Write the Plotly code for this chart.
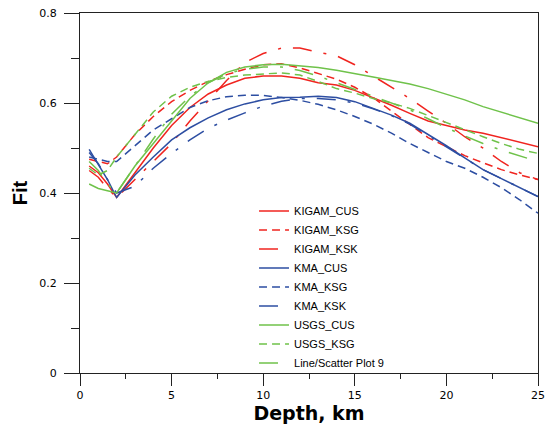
import plotly.graph_objects as go

depth = [0.5, 1, 1.5, 2, 3, 4, 5, 6, 7, 8, 9, 10, 11, 12, 13, 14, 15, 16, 17, 18, 19, 20, 21, 22, 23, 24, 25]

kigam_cus = [0.46, 0.445, 0.42, 0.39, 0.445, 0.50, 0.55, 0.59, 0.62, 0.64, 0.655, 0.66, 0.66, 0.655, 0.645, 0.64, 0.628, 0.612, 0.595, 0.577, 0.56, 0.55, 0.54, 0.533, 0.523, 0.513, 0.503]
kigam_ksg = [0.475, 0.47, 0.465, 0.48, 0.53, 0.57, 0.603, 0.628, 0.648, 0.663, 0.675, 0.685, 0.687, 0.678, 0.666, 0.653, 0.635, 0.612, 0.582, 0.552, 0.523, 0.503, 0.483, 0.467, 0.452, 0.44, 0.43]
kigam_ksk = [0.45, 0.435, 0.41, 0.39, 0.43, 0.47, 0.51, 0.56, 0.605, 0.65, 0.69, 0.71, 0.722, 0.722, 0.713, 0.705, 0.685, 0.66, 0.635, 0.61, 0.582, 0.555, 0.525, 0.50, 0.47, 0.445, 0.43]
kma_cus = [0.497, 0.465, 0.43, 0.39, 0.44, 0.48, 0.518, 0.545, 0.567, 0.585, 0.598, 0.607, 0.612, 0.613, 0.615, 0.612, 0.603, 0.588, 0.573, 0.555, 0.53, 0.505, 0.478, 0.452, 0.432, 0.412, 0.392]
kma_ksg = [0.48, 0.475, 0.47, 0.47, 0.505, 0.54, 0.565, 0.59, 0.605, 0.614, 0.617, 0.617, 0.612, 0.606, 0.597, 0.585, 0.57, 0.553, 0.533, 0.51, 0.49, 0.47, 0.455, 0.435, 0.412, 0.385, 0.355]
kma_ksk = [0.49, 0.465, 0.43, 0.40, 0.415, 0.455, 0.488, 0.518, 0.544, 0.562, 0.578, 0.593, 0.604, 0.61, 0.61, 0.607, 0.60, 0.587, 0.572, 0.553, 0.528, 0.503, 0.477, 0.452, 0.432, 0.412, 0.392]
usgs_cus = [0.42, 0.41, 0.405, 0.40, 0.46, 0.51, 0.56, 0.61, 0.645, 0.668, 0.68, 0.685, 0.686, 0.683, 0.679, 0.673, 0.666, 0.658, 0.65, 0.642, 0.632, 0.62, 0.607, 0.592, 0.58, 0.567, 0.555]
usgs_ksg = [0.455, 0.44, 0.45, 0.48, 0.53, 0.58, 0.615, 0.635, 0.648, 0.657, 0.662, 0.665, 0.667, 0.662, 0.648, 0.632, 0.622, 0.61, 0.60, 0.588, 0.572, 0.557, 0.54, 0.525, 0.51, 0.497, 0.488]
plot9 = [0.47, 0.45, 0.42, 0.40, 0.46, 0.52, 0.575, 0.615, 0.645, 0.665, 0.675, 0.68, 0.68, 0.672, 0.66, 0.645, 0.63, 0.615, 0.60, 0.585, 0.565, 0.545, 0.527, 0.51, 0.495, 0.482, 0.47]

series_names = ["KIGAM_CUS", "KIGAM_KSG", "KIGAM_KSK", "KMA_CUS", "KMA_KSG", "KMA_KSK",
                "USGS_CUS", "USGS_KSG", "Line/Scatter Plot 9"]
series_values = [kigam_cus, kigam_ksg, kigam_ksk, kma_cus, kma_ksg, kma_ksk, usgs_cus, usgs_ksg, plot9]

x_tickvals = [0, 5, 10, 15, 20, 25]
x_ticktext = ["0", "5", "10", "15", "20", "25"]
y_tickvals = [0, 0.2, 0.4, 0.6, 0.8]
y_ticktext = ["0", "0.2", "0.4", "0.6", "0.8"]

RED = "#f0241f"
BLUE = "#2d4ea2"
GREEN = "#6fc24a"
colors = [RED, RED, RED, BLUE, BLUE, BLUE, GREEN, GREEN, GREEN]
SOLID = "solid"
DASH = "8px,5px"
DASHDOT = "19px,12px,3px,12px"
dashes = [SOLID, DASH, DASHDOT] * 3

fig = go.Figure()
for name, vals, c, d in zip(series_names, series_values, colors, dashes):
    fig.add_trace(go.Scatter(
        x=depth, y=vals, name=name, mode="lines",
        line=dict(color=c, width=1.5, dash=d),
    ))

fig.update_layout(
    width=547, height=427,
    margin=dict(l=80, r=9, t=13, b=54, autoexpand=False),
    paper_bgcolor="white", plot_bgcolor="white",
    font=dict(family="DejaVu Sans", size=11, color="black"),
    showlegend=True,
    legend=dict(
        x=0.38, y=0.49, xanchor="left", yanchor="top",
        bgcolor="rgba(0,0,0,0)", borderwidth=0,
        font=dict(family="Liberation Sans", size=11),
        tracegroupgap=0,
    ),
)

fig.update_xaxes(
    range=[0, 25], tickvals=x_tickvals, ticktext=x_ticktext,
    ticks="outside", ticklen=12, tickwidth=1, tickcolor="#222",
    minor=dict(dtick=2.5, ticks="outside", ticklen=5, tickcolor="#222"),
    showline=True, linecolor="#222", linewidth=1.2, mirror=True,
    showgrid=False, zeroline=False, automargin=False,
    tickfont=dict(family="DejaVu Sans", size=11),
    title=dict(text="<b>Depth, km</b>", font=dict(family="DejaVu Sans", size=19), standoff=0),
)
fig.update_yaxes(
    range=[0, 0.8], tickvals=y_tickvals, ticktext=y_ticktext,
    ticks="outside", ticklen=15, tickwidth=1, tickcolor="#222",
    minor=dict(dtick=0.1, ticks="outside", ticklen=8, tickcolor="#222"),
    showline=True, linecolor="#222", linewidth=1.2, mirror=True,
    showgrid=False, zeroline=False, automargin=False,
    ticklabelstandoff=5,
    tickfont=dict(family="DejaVu Sans", size=11),
    title=dict(text="<b>Fit</b>", font=dict(family="Liberation Sans", size=20), standoff=6),
)

fig.write_html("out.html", config={"displayModeBar": False},
               post_script="document.body.style.margin='0px';")
